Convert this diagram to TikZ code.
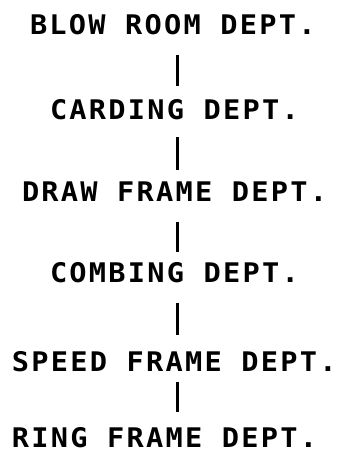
\documentclass[tikz,border=0pt]{standalone}
\usepackage{fontspec}
\newfontfamily\plotfont[FakeStretch=1.06,LetterSpace=8.4]{DejaVu Sans Mono}
\begin{document}
\begin{tikzpicture}[x=1pt,y=1pt,
  dept/.style={anchor=base west,inner sep=0pt,outer sep=0pt,
    font=\plotfont\bfseries\fontsize{27}{27}\selectfont},
  link/.style={line width=3pt}]
\useasboundingbox (0,0) rectangle (342,452);
\coordinate (axis) at (177.5,0);
\node[dept] (blow)  at (30,417) {BLOW ROOM DEPT.};
\node[dept] (card)  at (50,332) {CARDING DEPT.};
\node[dept] (draw)  at (22,250) {DRAW FRAME DEPT.};
\node[dept] (comb)  at (50,169) {COMBING DEPT.};
\node[dept] (speed) at (12,80)  {SPEED FRAME DEPT.};
\node[dept] (ring)  at (12,5)   {RING FRAME DEPT.};
\draw[link,shorten <=20pt,shorten >=14pt] (blow.south -| axis) -- (card.north -| axis);
\draw[link,shorten <=17pt,shorten >=12pt] (card.south -| axis) -- (draw.north -| axis);
\draw[link,shorten <=20pt,shorten >=11pt] (draw.south -| axis) -- (comb.north -| axis);
\draw[link,shorten <=20pt,shorten >=17pt] (comb.south -| axis) -- (speed.north -| axis);
\draw[link,shorten <=10pt,shorten >=15pt] (speed.south -| axis) -- (ring.north -| axis);
\end{tikzpicture}
\end{document}
